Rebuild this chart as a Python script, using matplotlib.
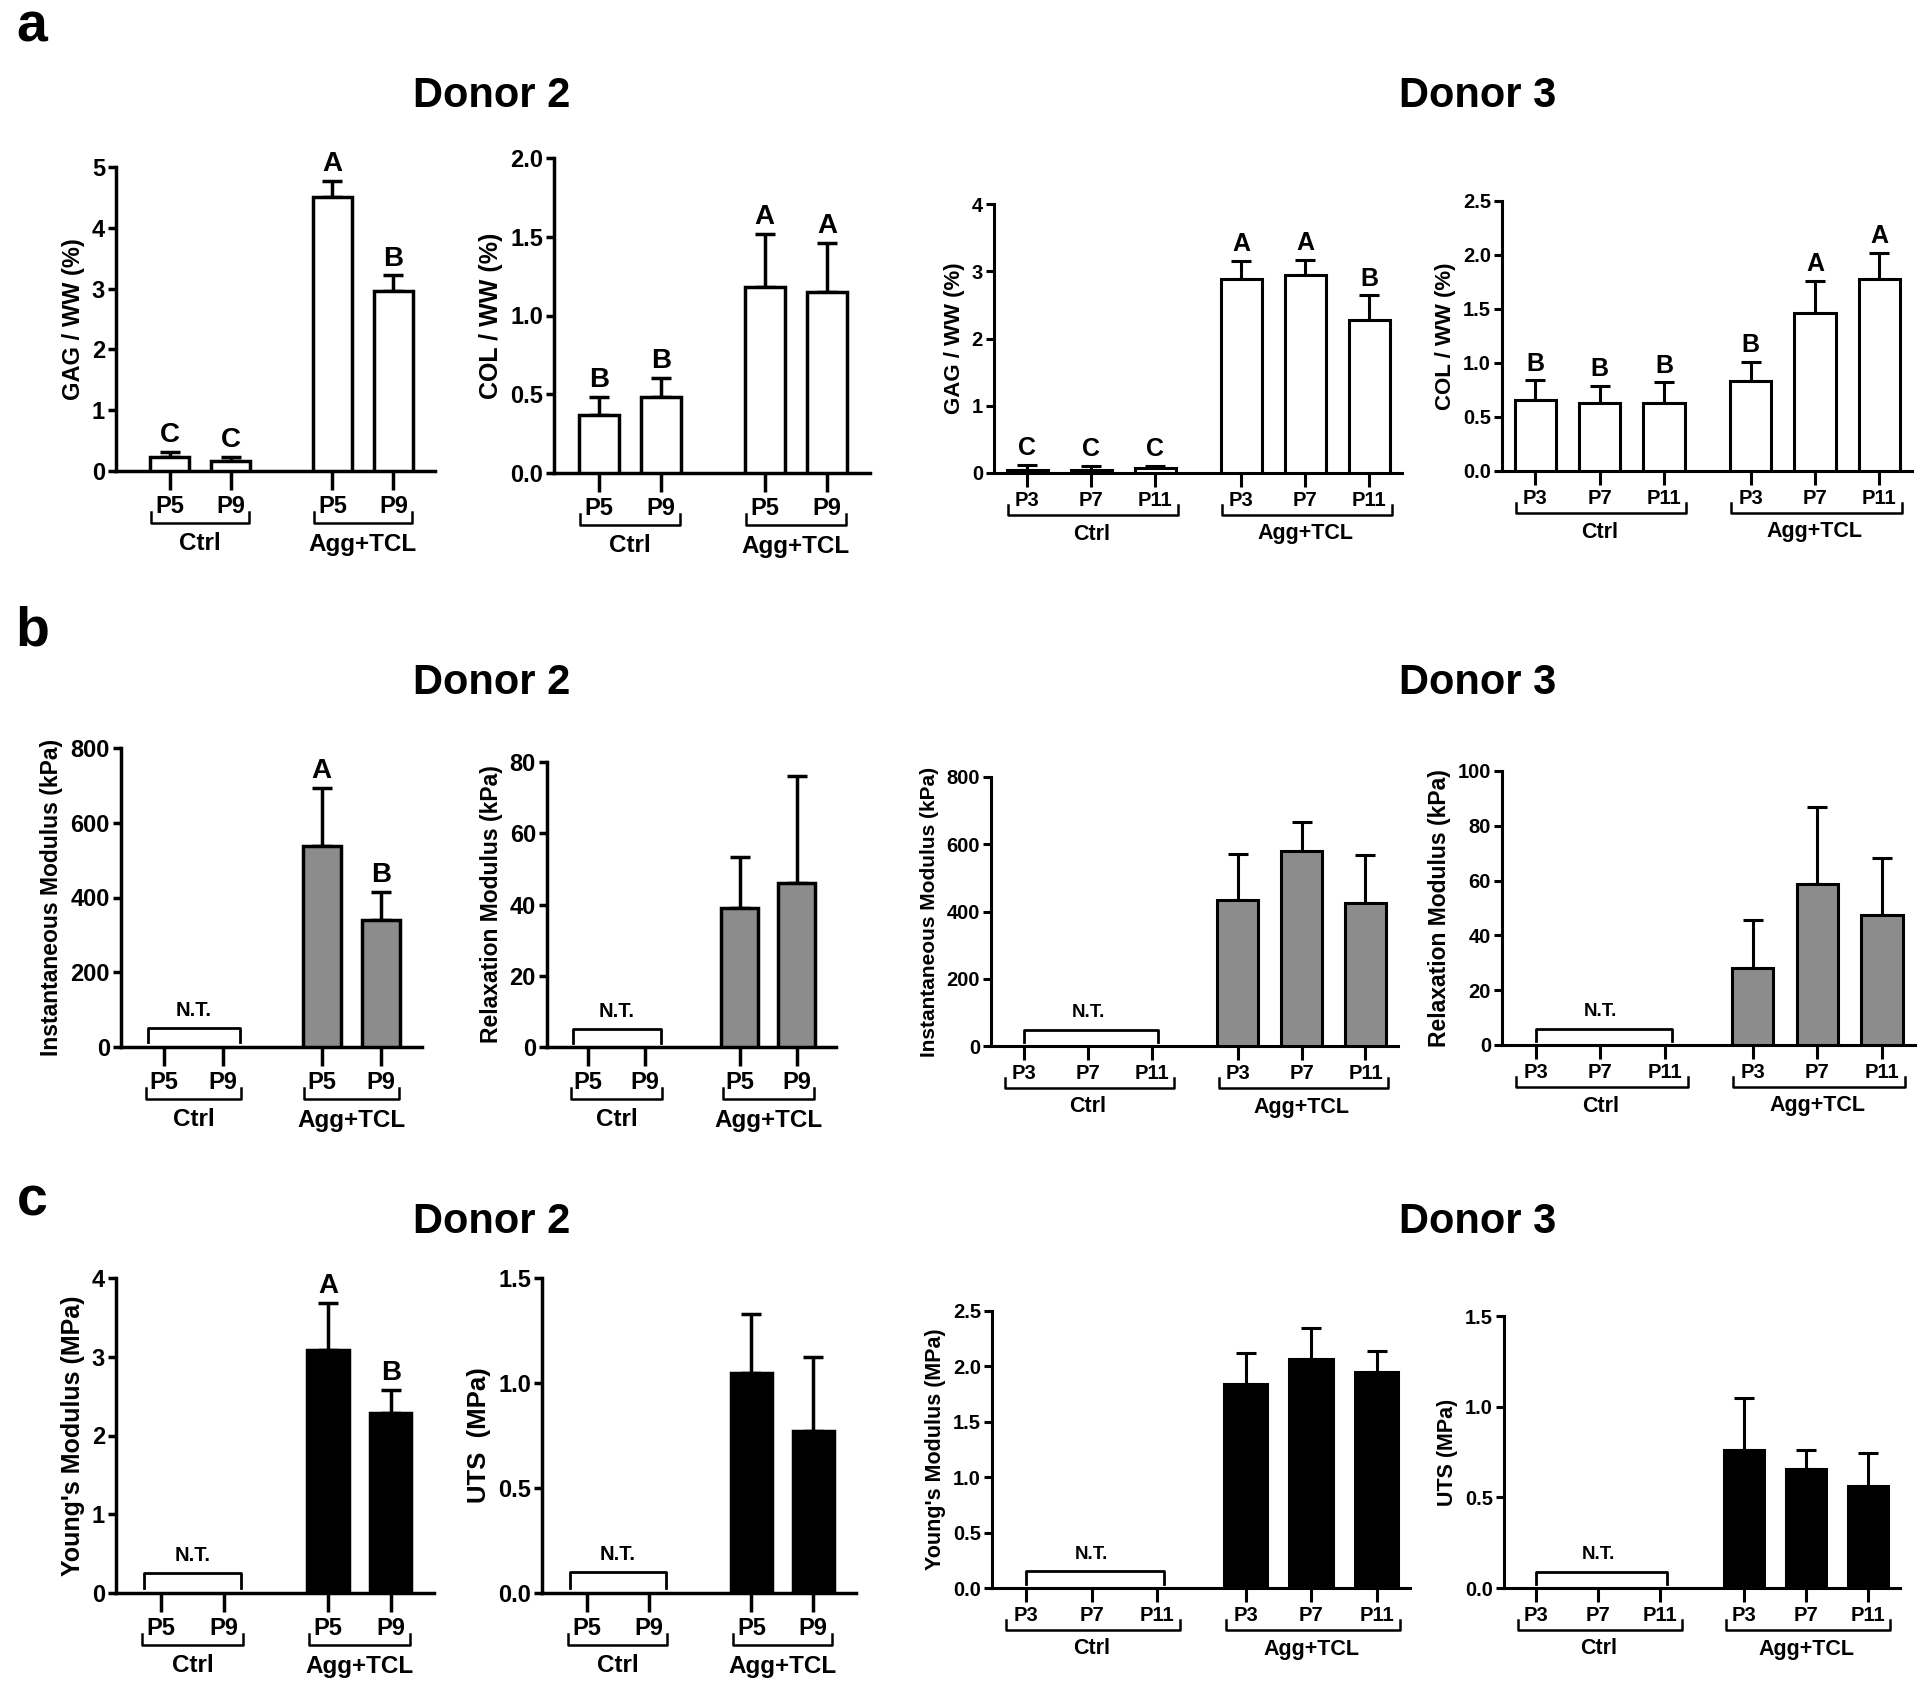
import numpy as np
import matplotlib
matplotlib.use("Agg")
import matplotlib.pyplot as plt
from matplotlib.ticker import FormatStrFormatter, MultipleLocator
from matplotlib.transforms import blended_transform_factory

plt.rcParams['font.family'] = ['Liberation Sans', 'DejaVu Sans']
plt.rcParams['font.weight'] = 'bold'
plt.rcParams['axes.labelweight'] = 'bold'

# ---- data ----
groups = ["Ctrl", "Agg+TCL"]
d2_passages = ["P5", "P9"]
d3_passages = ["P3", "P7", "P11"]
nan = np.nan

gag_d2_mean = [0.23, 0.16, 4.50, 2.96]
gag_d2_sd = [0.08, 0.07, 0.27, 0.26]
gag_d2_letters = ["C", "C", "A", "B"]

col_d2_mean = [0.37, 0.48, 1.18, 1.15]
col_d2_sd = [0.115, 0.125, 0.34, 0.31]
col_d2_letters = ["B", "B", "A", "A"]

gag_d3_mean = [0.05, 0.04, 0.08, 2.88, 2.95, 2.28]
gag_d3_sd = [0.07, 0.07, 0.03, 0.27, 0.22, 0.36]
gag_d3_letters = ["C", "C", "C", "A", "A", "B"]

col_d3_mean = [0.66, 0.63, 0.63, 0.83, 1.46, 1.78]
col_d3_sd = [0.18, 0.16, 0.19, 0.18, 0.30, 0.24]
col_d3_letters = ["B", "B", "B", "B", "A", "A"]

inst_d2_mean = [nan, nan, 539, 340]
inst_d2_sd = [nan, nan, 154, 76]
inst_d2_letters = ["", "", "A", "B"]

relax_d2_mean = [nan, nan, 38.9, 45.9]
relax_d2_sd = [nan, nan, 14.5, 30.1]

inst_d3_mean = [nan, nan, nan, 434, 580, 424]
inst_d3_sd = [nan, nan, nan, 138, 85, 143]

relax_d3_mean = [nan, nan, nan, 28.0, 58.7, 47.3]
relax_d3_sd = [nan, nan, nan, 17.6, 28.3, 20.8]

young_d2_mean = [nan, nan, 3.08, 2.28]
young_d2_sd = [nan, nan, 0.60, 0.30]
young_d2_letters = ["", "", "A", "B"]

uts_d2_mean = [nan, nan, 1.05, 0.77]
uts_d2_sd = [nan, nan, 0.277, 0.355]

young_d3_mean = [nan, nan, nan, 1.845, 2.064, 1.945]
young_d3_sd = [nan, nan, nan, 0.274, 0.284, 0.198]

uts_d3_mean = [nan, nan, nan, 0.760, 0.658, 0.560]
uts_d3_sd = [nan, nan, nan, 0.286, 0.104, 0.183]

# ---- figure ----
W, H = 1920, 1691
fig = plt.figure(figsize=(W / 100, H / 100), dpi=100)


def px_axes(l, t, r, b):
    return fig.add_axes([l / W, 1 - b / H, (r - l) / W, (b - t) / H])


def panel(rect, mean, sd, ylabel, ytop, ystep, fill, d3, ysize,
          letters=None, nt=None, xlim=None, width=0.64):
    ax = px_axes(*rect)
    h_px = rect[3] - rect[1]
    passages = d3_passages if d3 else d2_passages
    n = len(passages)
    gap = 1.35 if d3 else 1.66
    x = np.r_[np.arange(n), np.arange(n) + n - 1 + gap]
    mean = np.asarray(mean, float)
    sd = np.asarray(sd, float)
    ok = ~np.isnan(mean)

    tick_fs = 14.5 if d3 else 17
    grp_fs = 15.5 if d3 else 17.5
    let_fs = 18 if d3 else 20
    lw = 2.2 if d3 else 2.5

    ax.errorbar(x[ok], mean[ok], yerr=[np.zeros(ok.sum()), sd[ok]], fmt='none',
                ecolor='black', elinewidth=lw, capsize=7, capthick=lw, zorder=2)
    ax.bar(x[ok], mean[ok], width, color=fill, edgecolor='black',
           linewidth=lw, zorder=3)

    if letters is not None:
        for xi, m, s, lt in zip(x, mean, sd, letters):
            if lt:
                ax.annotate(lt, (xi, m + s), xytext=(0, 7), textcoords='offset points',
                            ha='center', va='baseline', fontsize=let_fs,
                            fontweight='bold')

    if nt is not None:
        x0, x1 = x[0], x[n - 1]
        e0, e1 = (0.0, 0.1) if d3 else (0.27, 0.28)
        ax.plot([x0 - e0, x0 - e0, x1 + e1, x1 + e1], [nt * 0.25, nt, nt, nt * 0.25],
                color='black', lw=2.0, clip_on=False, zorder=4)
        ax.annotate("N.T.", ((x0 + x1) / 2, nt), xytext=(0, 9), textcoords='offset points',
                    ha='center', va='baseline', fontsize=13.5 if d3 else 14.5,
                    fontweight='bold')

    for s in ['top', 'right']:
        ax.spines[s].set_visible(False)
    for s in ['left', 'bottom']:
        ax.spines[s].set_linewidth(lw)
    ax.set_ylim(0, ytop)
    ax.set_xlim(xlim if xlim is not None else ((-0.52, 5.86) if d3 else (-0.72, 4.35)))
    ax.yaxis.set_major_locator(MultipleLocator(ystep))
    ax.yaxis.set_major_formatter(FormatStrFormatter('%.1f' if ystep < 1 else '%d'))
    ax.set_xticks(x, passages * 2)
    ax.tick_params(axis='x', length=10 if d3 else 14, width=lw, labelsize=tick_fs, pad=3)
    ax.tick_params(axis='y', length=6, width=lw, labelsize=tick_fs, pad=2)
    for t in ax.get_xticklabels() + ax.get_yticklabels():
        t.set_fontweight('bold')
    ax.set_ylabel(ylabel, fontsize=ysize, fontweight='bold', labelpad=5)

    # group brackets under the passage labels
    tr = blended_transform_factory(ax.transData, ax.transAxes)
    br_off, up, lab_off = (42, 10, 61) if d3 else (52, 11, 73)
    ext_l, ext_r = (0.3, 0.35) if d3 else (0.3, 0.3)
    for g, name in enumerate(groups):
        xs = x[g * n:(g + 1) * n]
        yb = -br_off / h_px
        yu = -(br_off - up) / h_px
        ax.plot([xs[0] - ext_l, xs[0] - ext_l, xs[-1] + ext_r, xs[-1] + ext_r],
                [yu, yb, yb, yu], transform=tr, color='black', lw=1.8, clip_on=False)
        ax.text((xs[0] + xs[-1]) / 2, -lab_off / h_px, name, transform=tr,
                ha='center', va='center', fontsize=grp_fs, fontweight='bold')
    return ax


# row a: biochemistry
panel((116, 167, 435, 471), gag_d2_mean, gag_d2_sd, "GAG / WW (%)", 5, 1, 'white',
      False, 17, letters=gag_d2_letters, xlim=(-0.88, 4.34))
panel((554, 158, 870, 473), col_d2_mean, col_d2_sd, "COL / WW (%)", 2.0, 0.5, 'white',
      False, 18, letters=col_d2_letters)
panel((994, 204, 1402, 473), gag_d3_mean, gag_d3_sd, "GAG / WW (%)", 4, 1, 'white',
      True, 16, letters=gag_d3_letters)
panel((1502, 201, 1912, 471), col_d3_mean, col_d3_sd, "COL / WW (%)", 2.5, 0.5, 'white',
      True, 16, letters=col_d3_letters)

# row b: compressive properties
grey = '#8c8c8c'
panel((121, 748, 422, 1047), inst_d2_mean, inst_d2_sd, "Instantaneous Modulus (kPa)", 800, 200,
      grey, False, 16.5, letters=inst_d2_letters, nt=50)
panel((547, 762, 836, 1047), relax_d2_mean, relax_d2_sd, "Relaxation Modulus (kPa)", 80, 20,
      grey, False, 16.5, nt=5)
panel((991, 777, 1398, 1046), inst_d3_mean, inst_d3_sd, "Instantaneous Modulus (kPa)", 800, 200,
      grey, True, 15, nt=48)
panel((1502, 771, 1915, 1045), relax_d3_mean, relax_d3_sd, "Relaxation Modulus (kPa)", 100, 20,
      grey, True, 16.5, nt=6)

# row c: tensile properties
panel((116, 1278, 434, 1593), young_d2_mean, young_d2_sd, "Young's Modulus (MPa)", 4, 1,
      'black', False, 18, letters=young_d2_letters, nt=0.25, width=0.66)
panel((542, 1278, 856, 1593), uts_d2_mean, uts_d2_sd, "UTS  (MPa)", 1.5, 0.5,
      'black', False, 18.5, nt=0.1, width=0.66)
panel((992, 1311, 1410, 1588), young_d3_mean, young_d3_sd, "Young's Modulus (MPa)", 2.5, 0.5,
      'black', True, 15.5, nt=0.15, width=0.66)
panel((1504, 1316, 1900, 1588), uts_d3_mean, uts_d3_sd, "UTS (MPa)", 1.5, 0.5,
      'black', True, 15.5, nt=0.09, width=0.64)

# titles and panel letters
for y in (96, 683, 1222):
    fig.text(492 / W, 1 - y / H, "Donor 2", ha='center', va='center', fontsize=30, fontweight='bold')
    fig.text(1478 / W, 1 - y / H, "Donor 3", ha='center', va='center', fontsize=30, fontweight='bold')
for lab, y in (("a", 41), ("b", 645), ("c", 1216)):
    fig.text(32 / W, 1 - y / H, lab, ha='center', va='baseline', fontsize=40, fontweight='bold')

fig.savefig("out.png", dpi=100, facecolor='white')
